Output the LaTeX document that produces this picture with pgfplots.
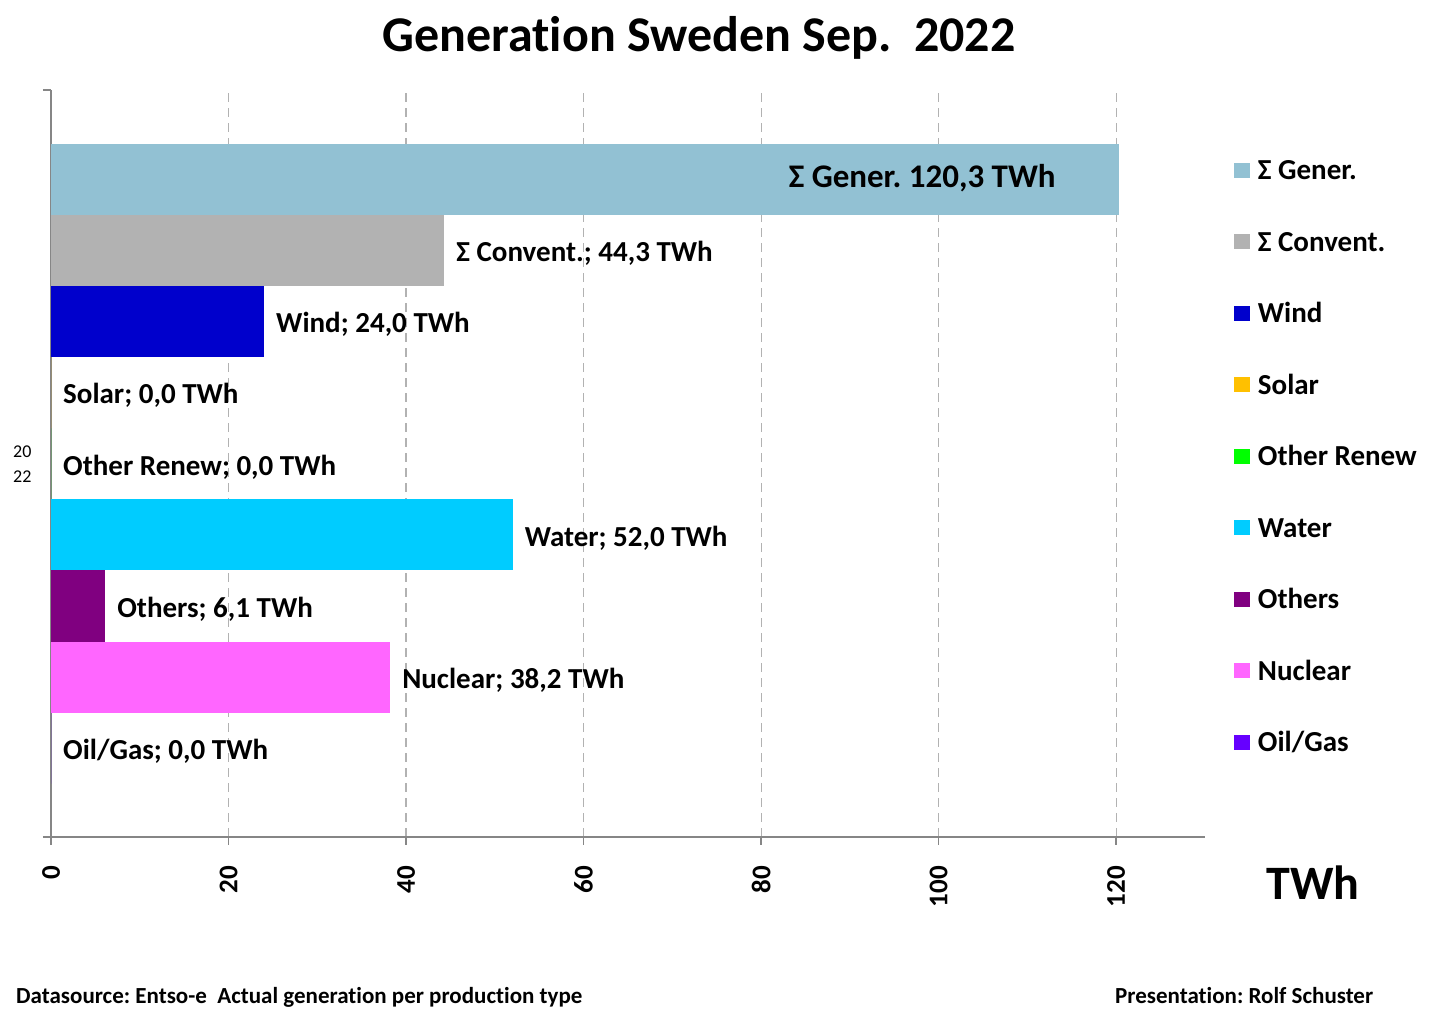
\documentclass[border=0pt]{standalone}
\usepackage{pgfplots}
\pgfplotsset{compat=1.18}
\usepackage{fontspec}
\setmainfont{Carlito}[Ligatures=NoCommon]
\frenchspacing

\definecolor{cGener}{RGB}{146,193,211}
\definecolor{cConv}{RGB}{178,178,178}
\definecolor{cWind}{RGB}{0,0,204}
\definecolor{cSolar}{RGB}{255,192,0}
\definecolor{cOthRen}{RGB}{0,255,0}
\definecolor{cWater}{RGB}{0,204,255}
\definecolor{cOthers}{RGB}{128,0,128}
\definecolor{cNuclear}{RGB}{255,102,255}
\definecolor{cOilGas}{RGB}{102,0,255}
\definecolor{axisgray}{RGB}{134,134,134}
\definecolor{gridgray}{RGB}{178,178,178}

\newcommand{\twh}{\pgfmathprintnumber[fixed,fixed zerofill,precision=1,use comma,assume math mode=true]{\pgfplotspointmeta}~TWh}

\begin{document}
\begin{tikzpicture}
\useasboundingbox (0,0) rectangle (1452pt,1018pt);
\begin{axis}[
    at={(51pt,181pt)}, anchor=south west,
    scale only axis, width=1154pt, height=747pt,
    xbar, bar width=1, bar shift=0pt,
    xmin=0, xmax=130, ymin=-1.25, ymax=9.26,
    axis x line*=bottom, axis y line*=left,
    axis line style={-, draw=axisgray, line width=1.5pt},
    tick style={draw=axisgray, line width=1.5pt},
    tick align=outside, major tick length=8pt,
    xtick={0,20,40,60,80,100,120},
    xmajorgrids,
    grid style={draw=gridgray, line width=1.2pt, dash pattern=on 9pt off 6pt},
    /pgf/number format/assume math mode=true,
    xticklabel style={rotate=90, anchor=east, inner sep=0pt,
        font=\bfseries\fontsize{27}{30}\selectfont},
    xticklabel shift=21pt,
    ytick={-1.25,9.26}, yticklabels={},
    extra y ticks={4}, extra y tick labels={{20\\22}},
    extra y tick style={major tick length=0pt,
        yticklabel style={align=center, xshift=-16pt,
            font=\fontsize{18}{25}\selectfont}},
    point meta=x,
    nodes near coords,
    every node near coord/.append style={anchor=west, inner sep=0pt,
        xshift=12pt, yshift=-3pt,
        font=\bfseries\fontsize{29}{32}\selectfont, text=black},
    legend cell align=left,
    legend image code/.code={\fill[#1] (0pt,-5pt) rectangle (16pt,10pt);},
    legend style={draw=none, fill=none, inner sep=0pt, outer sep=0pt,
        at={(axis description cs:1.0251,0.9063)}, anchor=north west,
        row sep=45.5pt,
        nodes={inner sep=0pt, text height=20pt, text depth=6pt},
        /tikz/every odd column/.append style={column sep=8pt},
        font=\bfseries\fontsize{29}{32}\selectfont},
]
\addplot[fill=cGener, draw=none, nodes near coords={Σ Gener. \twh},
    every node near coord/.append style={anchor=east, xshift=-75pt,
        yshift=4pt, font=\bfseries\fontsize{33}{36}\selectfont}]
    coordinates {(120.3,8)};
\addlegendentry{Σ Gener.}
\addplot[fill=cConv, draw=none, nodes near coords={Σ Convent.; \twh}]
    coordinates {(44.3,7)};
\addlegendentry{Σ Convent.}
\addplot[fill=cWind, draw=none, nodes near coords={Wind; \twh}]
    coordinates {(24.0,6)};
\addlegendentry{Wind}
\addplot[fill=cSolar, draw=none, nodes near coords={Solar; \twh}]
    coordinates {(0.0,5)};
\addlegendentry{Solar}
\addplot[fill=cOthRen, draw=none, nodes near coords={Other Renew; \twh}]
    coordinates {(0.0,4)};
\addlegendentry{Other Renew}
\addplot[fill=cWater, draw=none, nodes near coords={Water; \twh}]
    coordinates {(52.0,3)};
\addlegendentry{Water}
\addplot[fill=cOthers, draw=none, nodes near coords={Others; \twh}]
    coordinates {(6.1,2)};
\addlegendentry{Others}
\addplot[fill=cNuclear, draw=none, nodes near coords={Nuclear; \twh}]
    coordinates {(38.2,1)};
\addlegendentry{Nuclear}
\addplot[fill=cOilGas, draw=none, nodes near coords={Oil/Gas; \twh}]
    coordinates {(0.0,0)};
\addlegendentry{Oil/Gas}
\end{axis}
\node[anchor=base, font=\bfseries\fontsize{50}{60}\selectfont] at (699pt,966pt) {Generation Sweden Sep.\ \ 2022};
\node[anchor=base, font=\bfseries\fontsize{48}{58}\selectfont] at (1313pt,118pt) {TWh};
\node[anchor=base west, inner sep=0pt, font=\bfseries\fontsize{23}{27}\selectfont] at (16pt,14pt) {Datasource: Entso-e\ \ Actual generation per production type};
\node[anchor=base west, inner sep=0pt, font=\bfseries\fontsize{23}{27}\selectfont] at (1115pt,14pt) {Presentation: Rolf Schuster};
\end{tikzpicture}
\end{document}
